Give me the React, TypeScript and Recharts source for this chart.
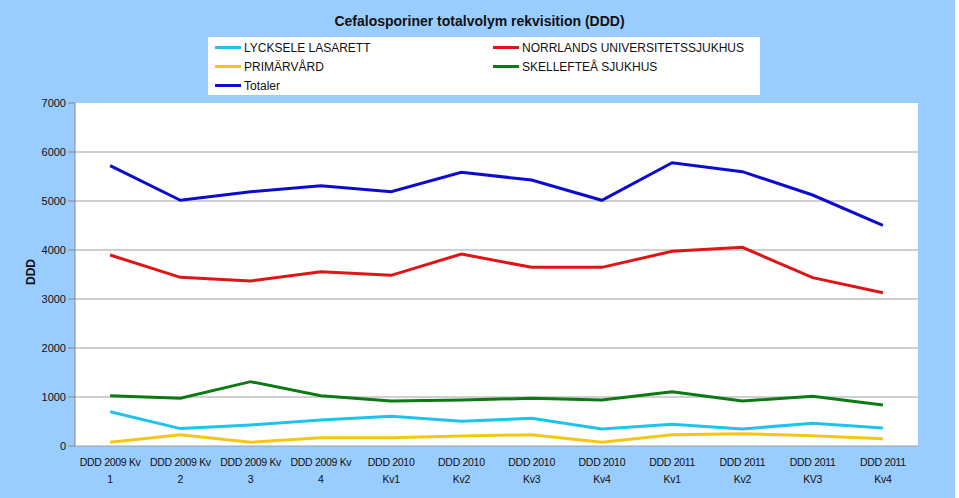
import { LineChart, Line, XAxis, YAxis, CartesianGrid } from "recharts";

const categories = [
  "DDD 2009 Kv 1", "DDD 2009 Kv 2", "DDD 2009 Kv 3", "DDD 2009 Kv 4",
  "DDD 2010 Kv1", "DDD 2010 Kv2", "DDD 2010 Kv3", "DDD 2010 Kv4",
  "DDD 2011 Kv1", "DDD 2011 Kv2", "DDD 2011 KV3", "DDD 2011 Kv4",
];
const lycksele = [700, 355, 430, 530, 605, 505, 565, 348, 442, 348, 463, 367];
const norrlands = [3898, 3442, 3367, 3558, 3483, 3918, 3646, 3646, 3973, 4054, 3435, 3129];
const primarvard = [75, 231, 75, 170, 170, 204, 231, 75, 231, 252, 211, 150];
const skelleftea = [1027, 973, 1313, 1027, 918, 939, 973, 939, 1109, 918, 1014, 837];
const totaler = [5720, 5014, 5190, 5312, 5190, 5585, 5429, 5014, 5782, 5599, 5122, 4503];
const yTicks = [0, 1000, 2000, 3000, 4000, 5000, 6000, 7000];
const gridValues = [0, 1000, 2000, 3000, 4000, 5000, 6000];
const bandEdges = Array.from({ length: categories.length + 1 }, (_, i) => i);

const series = [
  { key: "lycksele", name: "LYCKSELE LASARETT", color: "#1ec3ec" },
  { key: "norrlands", name: "NORRLANDS UNIVERSITETSSJUKHUS", color: "#e01414" },
  { key: "primarvard", name: "PRIMÄRVÅRD", color: "#f6c613" },
  { key: "skelleftea", name: "SKELLEFTEÅ SJUKHUS", color: "#0c7a12" },
  { key: "totaler", name: "Totaler", color: "#0c0cd0" },
];

const data = categories.map((c, i) => ({
  cat: c,
  idx: i + 0.5,
  lycksele: lycksele[i],
  norrlands: norrlands[i],
  primarvard: primarvard[i],
  skelleftea: skelleftea[i],
  totaler: totaler[i],
}));

const font = "'Liberation Sans', Arial, sans-serif";

interface TickProps { x?: number; y?: number; payload?: { value: number }; }

// category label under each band, split in two lines like the original
const CatTick = ({ x = 0, y = 0, payload }: TickProps) => {
  const v = categories[Math.floor(payload?.value ?? 0)] ?? "";
  const cut = v.lastIndexOf(" ");
  return (
    <text x={x} y={y} textAnchor="middle" fill="#111" fontSize={10.5} letterSpacing={-0.3} fontFamily={font}>
      <tspan x={x} dy={12}>{v.slice(0, cut)}</tspan>
      <tspan x={x} dy={17}>{v.slice(cut + 1)}</tspan>
    </text>
  );
};

const LegendItem = ({ name, color }: { name: string; color: string }) => (
  <div style={{ display: "flex", alignItems: "center", height: 19 }}>
    <div style={{ width: 26, height: 3, background: color, marginRight: 3 }} />
    <span>{name}</span>
  </div>
);

const App = () => {
  const byKey = (k: string) => series.find((s) => s.key === k)!;
  return (
    <div style={{ position: "relative", width: 959, height: 498, background: "#fff", fontFamily: font }}>
      <style>{`body{margin:0}`}</style>
      <div style={{ position: "absolute", left: 0, top: 0, width: 955, height: 498, background: "#99ccff" }} />
      <div style={{ position: "absolute", left: 0, width: 959, top: 13, textAlign: "center", fontWeight: "bold", fontSize: 14, color: "#111" }}>
        Cefalosporiner totalvolym rekvisition (DDD)
      </div>
      <div style={{ position: "absolute", left: 208, top: 37, width: 552, height: 58, background: "#fff", fontSize: 12, color: "#111" }}>
        <div style={{ position: "absolute", left: 7, top: 1 }}>
          <LegendItem name={byKey("lycksele").name} color={byKey("lycksele").color} />
          <LegendItem name={byKey("primarvard").name} color={byKey("primarvard").color} />
          <LegendItem name={byKey("totaler").name} color={byKey("totaler").color} />
        </div>
        <div style={{ position: "absolute", left: 285, top: 1 }}>
          <LegendItem name={byKey("norrlands").name} color={byKey("norrlands").color} />
          <LegendItem name={byKey("skelleftea").name} color={byKey("skelleftea").color} />
        </div>
      </div>
      <div style={{ position: "absolute", left: 31, top: 272, transform: "translate(-50%,-50%) rotate(-90deg)", fontWeight: "bold", fontSize: 12, color: "#111" }}>
        DDD
      </div>
      <LineChart width={959} height={498} data={data} margin={{ top: 103, right: 41, bottom: 0, left: 15 }} style={{ position: "absolute", left: 0, top: 0 }}>
        <CartesianGrid vertical={false} stroke="#a0a0a0" fill="#fff" horizontalValues={gridValues} />
        <XAxis xAxisId="b" dataKey="idx" type="number" domain={[0, 12]} ticks={bandEdges} tickFormatter={() => ""} stroke="#888" tickSize={5} height={0} />
        <XAxis xAxisId="c" dataKey="idx" type="number" domain={[0, 12]} ticks={data.map((d) => d.idx)} interval={0} tick={<CatTick />} axisLine={false} tickLine={false} height={52} />
        <YAxis domain={[0, 7000]} ticks={yTicks} interval={0} width={60} stroke="#888" tickSize={7} tick={{ fill: "#111", fontSize: 11, fontFamily: font }} />
        {series.map((s) => (
          <Line key={s.key} xAxisId="b" dataKey={s.key} stroke={s.color} strokeWidth={3} dot={false} isAnimationActive={false} />
        ))}
      </LineChart>
    </div>
  );
};

export default App;
